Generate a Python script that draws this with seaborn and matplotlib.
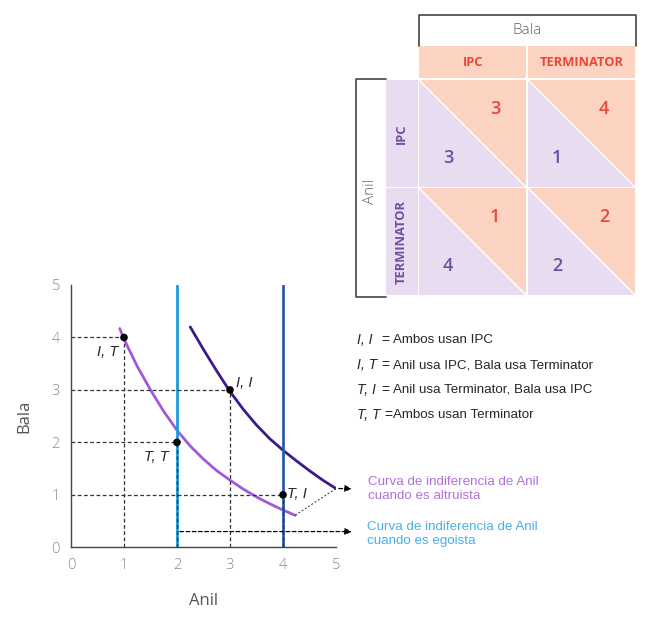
import numpy as np
import pandas as pd
import seaborn as sns
import matplotlib.pyplot as plt
from matplotlib.patches import Polygon, Rectangle

# data
alt_low_x = [0.92, 1.0, 1.25, 1.5, 1.75, 2.0, 2.25, 2.5, 2.75, 3.0, 3.25, 3.5, 3.75, 4.0, 4.23]
alt_low_y = [4.17, 3.97, 3.45, 3.0, 2.59, 2.23, 1.93, 1.68, 1.46, 1.28, 1.11, 0.96, 0.83, 0.71, 0.61]
alt_high_x = [2.25, 2.5, 2.75, 3.0, 3.25, 3.5, 3.75, 4.0, 4.25, 4.5, 4.75, 5.0]
alt_high_y = [4.2, 3.77, 3.36, 2.97, 2.63, 2.33, 2.07, 1.85, 1.65, 1.46, 1.28, 1.12]
selfish_x = [2, 4]
pts_anil = [1, 3, 2, 4]
pts_bala = [4, 3, 2, 1]
pts_lab = ['I, T', 'I, I', 'T, T', 'T, I']

strategies = ['IPC', 'TERMINATOR']
pay_bala = [[3, 4], [1, 2]]
pay_anil = [[3, 1], [4, 2]]

legend_keys = ['I, I', 'I, T', 'T, I', 'T, T']
legend_desc = ['Ambos usan IPC', 'Anil usa IPC, Bala usa Terminator',
               'Anil usa Terminator, Bala usa IPC', 'Ambos usan Terminator']

sns.set_style('white')
plt.rcParams['font.family'] = ['Open Sans', 'DejaVu Sans']

W, H = 656, 628
fig = plt.figure(figsize=(W / 100, H / 100), dpi=100)

# main chart
ax = fig.add_axes([71 / W, 1 - 547.3 / H, 265 / W, 262.3 / H])
c_purple = '#a259d9'
c_dark = '#3d1a8c'
c_lblue = '#1a9ad6'
c_dblue = '#2f5aa8'

df_low = pd.DataFrame({'x': alt_low_x, 'y': alt_low_y})
df_high = pd.DataFrame({'x': alt_high_x, 'y': alt_high_y})
sns.lineplot(data=df_low, x='x', y='y', color=c_purple, lw=2, sort=False, ax=ax,
             solid_joinstyle='round')
sns.lineplot(data=df_high, x='x', y='y', color=c_dark, lw=2, sort=False, ax=ax,
             solid_joinstyle='round')
ax.axvline(selfish_x[0], color=c_lblue, lw=2)
ax.axvline(selfish_x[1], color=c_dblue, lw=2)

dash = dict(color='#333333', lw=0.9, ls=(0, (3, 2)))
for a, b in zip(pts_anil, pts_bala):
    ax.plot([0, a], [b, b], **dash)
    ax.plot([a, a], [0, b], **dash)

sns.scatterplot(x=pts_anil, y=pts_bala, color='black', s=30, zorder=5, ax=ax, edgecolor='none')
lab_pos = [(0.89, 3.73, 'right'), (3.11, 3.13, 'left'), (1.85, 1.73, 'right'), (4.08, 1.02, 'left')]
for t, (lx, ly, ha) in zip(pts_lab, lab_pos):
    ax.text(lx, ly, t, style='italic', fontsize=10.5, ha=ha, va='center',
            family=['Liberation Sans'])

# arrows to the labels
ax.plot([alt_low_x[-1], alt_high_x[-1]], [alt_low_y[-1], alt_high_y[-1]],
        color='#333333', lw=0.7, ls=(0, (2, 2)))
ax.annotate('', xy=(5.35, 1.12), xytext=(5.0, 1.12), annotation_clip=False,
            arrowprops=dict(arrowstyle='-|>', color='black', lw=0.9, ls=(0, (3, 2)),
                            mutation_scale=10))
ax.annotate('', xy=(5.35, 0.3), xytext=(2.0, 0.3), annotation_clip=False,
            arrowprops=dict(arrowstyle='-|>', color='black', lw=0.9, ls=(0, (3, 2)),
                            mutation_scale=10))

ax.set_xlim(0, 5)
ax.set_ylim(0, 5)
ax.set_xticks(range(6))
ax.set_yticks(range(6))
for s in ['top', 'right']:
    ax.spines[s].set_visible(False)
for s in ['left', 'bottom']:
    ax.spines[s].set_color('#444444')
    ax.spines[s].set_linewidth(1)
ax.tick_params(direction='out', length=4, width=1, color='#444444',
               labelcolor='#8a8a8a', labelsize=10.5, pad=4)
for lab in ax.get_xticklabels() + ax.get_yticklabels():
    lab.set_fontweight('light')
ax.set_xlabel('Anil', fontsize=12, color='#555555', labelpad=14)
ax.set_ylabel('Bala', fontsize=12, color='#555555', labelpad=14)

# overlay in pixel coordinates
ov = fig.add_axes([0, 0, 1, 1])
ov.set_xlim(0, W)
ov.set_ylim(H, 0)
ov.axis('off')

salmon = '#fcd3c1'
lav = '#e8dcf0'
red = '#e8473a'
purp = '#6f4ea0'

# Bala bracket and header
ov.plot([419, 419, 636, 636], [46, 15, 15, 46], color='#444444', lw=1.2)
ov.text(527.5, 31, 'Bala', ha='center', va='center', fontsize=11, color='#666666',
        fontweight='light')
col_x = [419, 528]
row_y = [80, 188]
cs = 108
for j, name in enumerate(strategies):
    ov.add_patch(Rectangle((col_x[j], 46), cs - 1, 32, color=salmon, lw=0))
    ov.text(col_x[j] + cs / 2, 62.5, name, ha='center', va='center', fontsize=9.3,
            color=red, fontweight='bold')

# Anil bracket and row headers
ov.plot([386, 356, 356, 386], [79, 79, 297, 297], color='#444444', lw=1.2)
ov.text(371, 191, 'Anil', ha='center', va='center', fontsize=11, color='#666666',
        rotation=90, fontweight='light')
for i, name in enumerate(strategies):
    ov.add_patch(Rectangle((386, row_y[i]), 32, cs - 1, color=lav, lw=0))
    ov.text(401, row_y[i] + cs / 2, name, ha='center', va='center', fontsize=9.3,
            color=purp, fontweight='bold', rotation=90)

# payoff cells
for i in range(2):
    for j in range(2):
        x0, y0 = col_x[j], row_y[i]
        x1, y1 = x0 + cs - 1, y0 + cs - 1
        ov.add_patch(Polygon([(x0, y0), (x1, y0), (x1, y1)], closed=True, color=salmon, lw=0))
        ov.add_patch(Polygon([(x0, y0), (x0, y1), (x1, y1)], closed=True, color=lav, lw=0))
        ov.plot([x0, x1], [y0, y1], color='white', lw=1)
        ov.text(x0 + 76, y0 + 29, str(pay_bala[i][j]), ha='center', va='center',
                fontsize=13, color=red, fontweight='semibold')
        ov.text(x0 + 29, y0 + 78, str(pay_anil[i][j]), ha='center', va='center',
                fontsize=13, color=purp, fontweight='semibold')

# legend of outcomes
leg_y = [340, 365, 390, 415]
eq_x = [381, 381, 381, 384]
for yy, ex, k, d in zip(leg_y, eq_x, legend_keys, legend_desc):
    ov.text(357, yy, k, style='italic', fontsize=10, va='center', family=['Liberation Sans'])
    ov.text(ex, yy, '=', fontsize=10, va='center', family=['Liberation Sans'])
    ov.text(393, yy, d, fontsize=9.6, va='center', family=['Liberation Sans'])

ov.text(368, 489, 'Curva de indiferencia de Anil\ncuando es altruista', fontsize=9.6,
        va='center', color='#b070e0', family=['Liberation Sans'], linespacing=1.3)
ov.text(367, 534, 'Curva de indiferencia de Anil\ncuando es egoista', fontsize=9.6,
        va='center', color='#4aaee8', family=['Liberation Sans'], linespacing=1.3)

fig.savefig('out.png', dpi=100)
